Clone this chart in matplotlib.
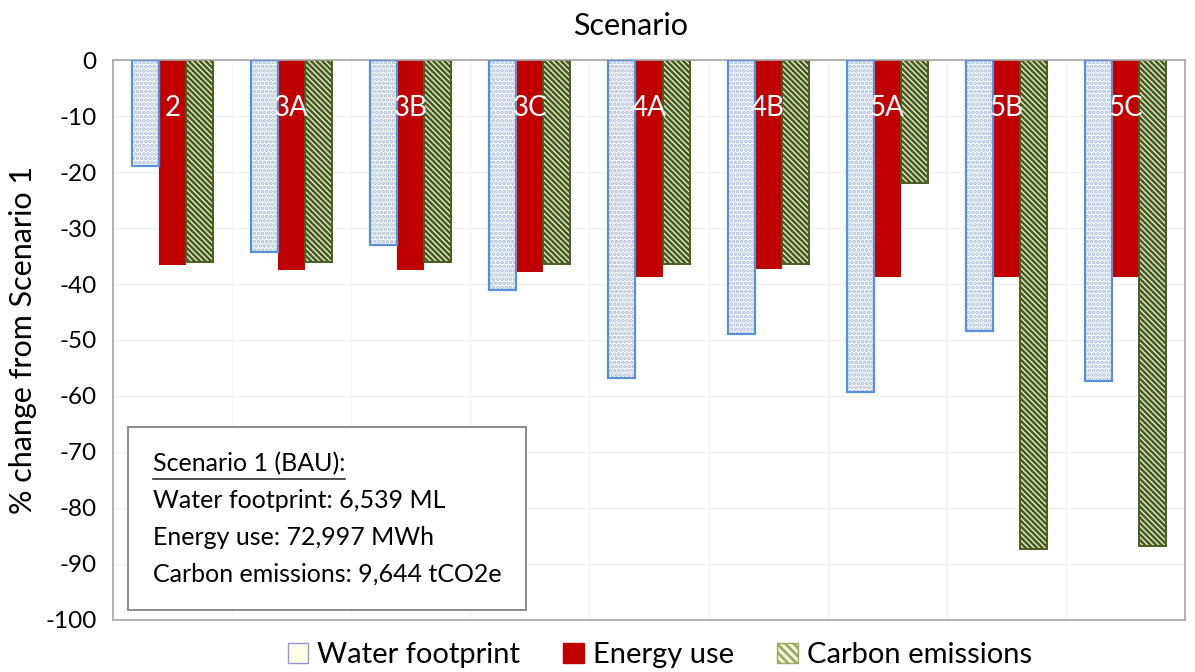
import numpy as np
import matplotlib.pyplot as plt
from matplotlib.lines import Line2D
from matplotlib.patches import Patch

plt.rcParams["font.family"] = ["Lato", "DejaVu Sans"]
plt.rcParams["hatch.linewidth"] = 1.9

scenarios = ["2", "3A", "3B", "3C", "4A", "4B", "5A", "5B", "5C"]
water = [-19.0, -34.3, -33.0, -41.0, -56.8, -49.0, -59.3, -48.4, -57.3]
energy = [-36.6, -37.5, -37.5, -37.8, -38.7, -37.3, -38.7, -38.7, -38.7]
carbon = [-36.0, -36.0, -36.0, -36.4, -36.4, -36.4, -22.0, -87.3, -86.8]
yticks = list(range(0, -101, -10))
baseline_lines = [
    "Water footprint: 6,539 ML",
    "Energy use: 72,997 MWh",
    "Carbon emissions: 9,644 tCO2e",
]

WATER_EDGE = "#5b8fd6"
WATER_DOTS = "#a9bdd8"
RED = "#c00000"
GREEN = "#4a5e22"
GREEN_BG = "#eef3dc"

fig = plt.figure(figsize=(11.95, 6.72), dpi=100)
ax = fig.add_axes([0.0946, 0.0774, 0.897, 0.8333])

x = np.arange(len(scenarios))
w = 0.227

# water footprint: dotted fill plus a separate outline
ax.bar(x - w, water, w, color="white", hatch="....", edgecolor=WATER_DOTS, linewidth=0, zorder=2)
ax.bar(x - w, water, w, fill=False, edgecolor=WATER_EDGE, linewidth=1.6, zorder=3)
ax.bar(x, energy, w, color=RED, linewidth=0, zorder=2)
ax.bar(x + w, carbon, w, color=GREEN_BG, hatch="\\" * 6, edgecolor=GREEN, linewidth=1.4, zorder=2)

for xi, name in zip(x, scenarios):
    ax.text(xi, -8.5, name, color="white", ha="center", va="center", fontsize=20, zorder=4)

ax.set_xlim(-0.5, len(scenarios) - 0.5)
ax.set_ylim(-100, 0)
ax.set_yticks(yticks)
ax.set_yticklabels([str(t) for t in yticks], fontsize=17.5)
ax.set_xticks(np.arange(len(scenarios) + 1) - 0.5, minor=True)
ax.set_xticks([])
ax.tick_params(axis="y", length=0, pad=12)
ax.tick_params(axis="x", which="both", length=0)
ax.grid(axis="y", color="#f0f0f0", linewidth=1, zorder=0)
ax.grid(axis="x", which="minor", color="#f4f4f4", linewidth=1, zorder=0)
for s in ax.spines.values():
    s.set_color("#a6a6a6")
    s.set_linewidth(1.2)

ax.set_ylabel("% change from Scenario 1", fontsize=22, labelpad=6)
fig.text(0.528, 0.962, "Scenario", ha="center", va="center", fontsize=22)

# baseline box
box_text = "Scenario 1 (BAU):\n" + "\n".join(baseline_lines)
t = ax.text(0.037, 0.062, box_text, transform=ax.transAxes, fontsize=18,
            ha="left", va="bottom", linespacing=1.72, zorder=5,
            bbox=dict(boxstyle="square,pad=1.0", facecolor="white", edgecolor="#8c8c8c", linewidth=1.4))

handles = [
    Patch(facecolor="#fdfde8", edgecolor="#9a94d0", label="Water footprint"),
    Patch(facecolor=RED, edgecolor=RED, label="Energy use"),
    Patch(facecolor=GREEN_BG, edgecolor="#9aaa60", hatch="\\" * 4, label="Carbon emissions"),
]
fig.legend(handles=handles, loc="center", bbox_to_anchor=(0.552, 0.025), ncol=3, frameon=False,
           fontsize=21, handlelength=0.7, handleheight=0.7, handletextpad=0.3, columnspacing=1.5)

# underline for the box heading
fig.canvas.draw()
r = fig.canvas.get_renderer()
ext = t.get_window_extent(r)
first = ax.text(0, 0, "Scenario 1 (BAU):", fontsize=18, transform=None)
fw = first.get_window_extent(r).width
first.remove()
line_h = ext.height / 4
uy = ext.y1 - line_h * 0.8
fig.add_artist(Line2D([ext.x0, ext.x0 + fw], [uy, uy], transform=None, color="#333333", linewidth=1.2, zorder=6))

fig.savefig("out.png", dpi=100)
